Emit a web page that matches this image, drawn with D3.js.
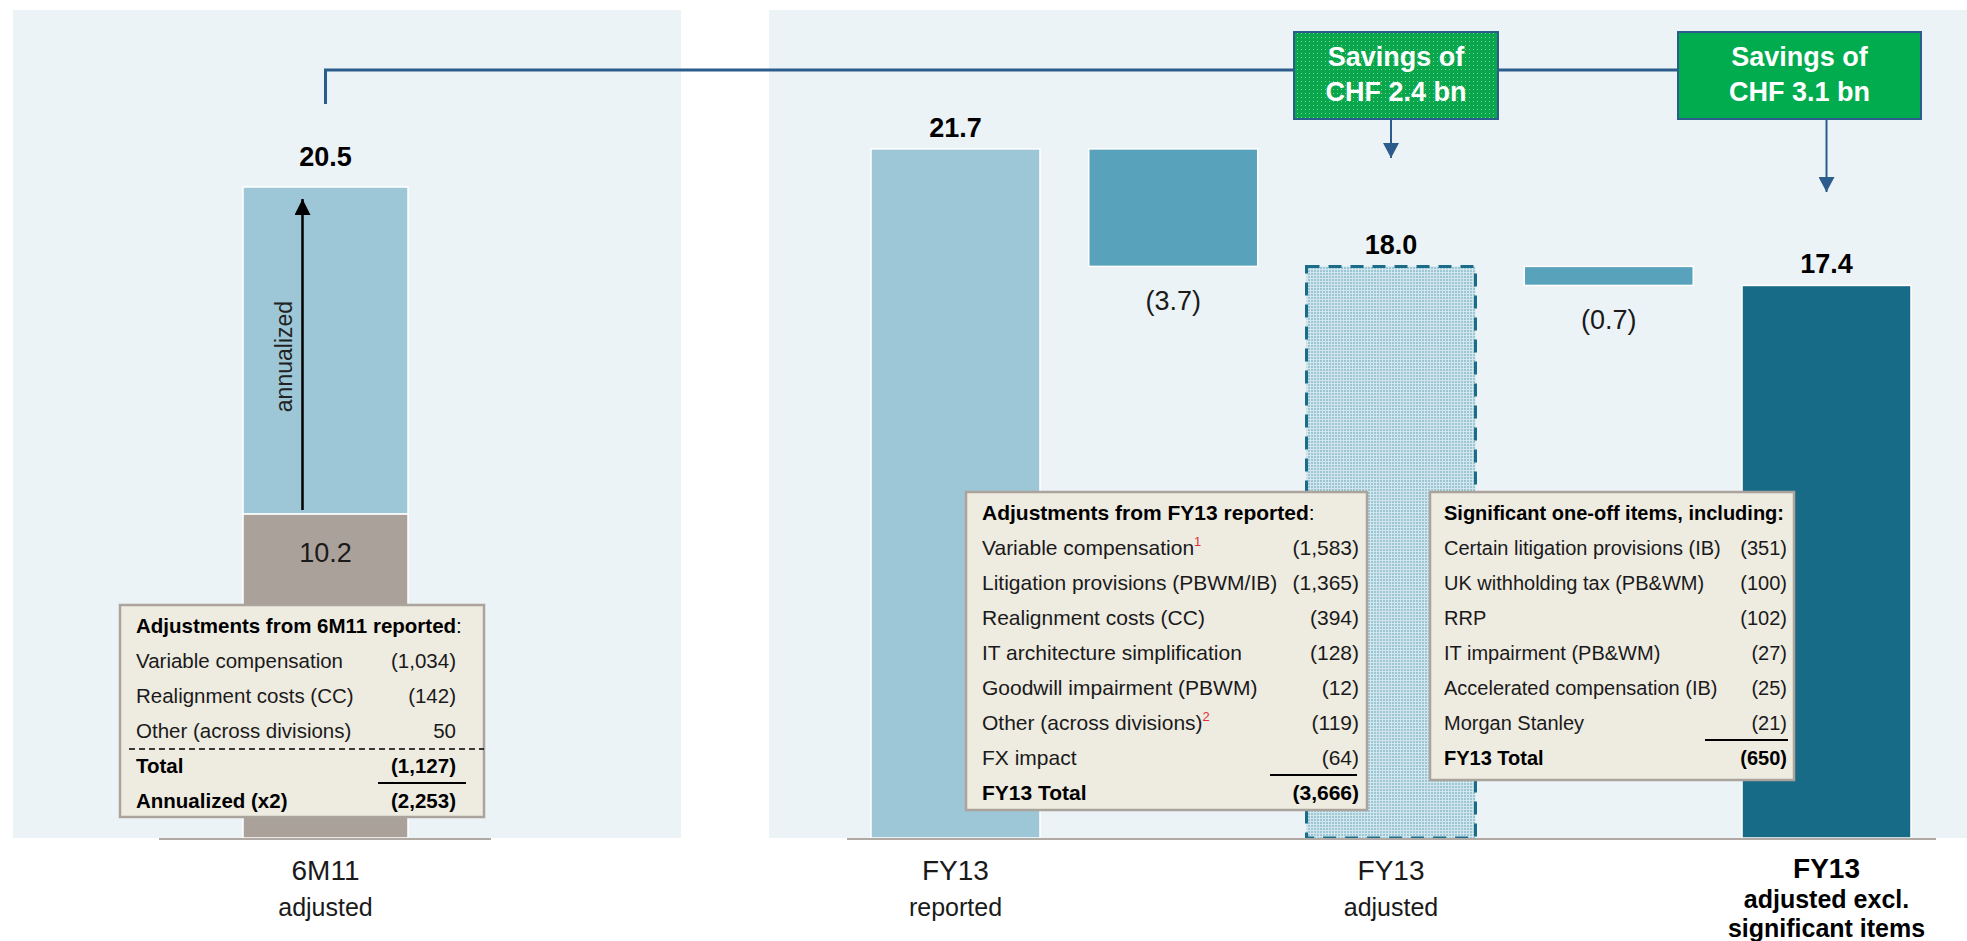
<!DOCTYPE html>
<html>
<head>
<meta charset="utf-8">
<script src="https://cdn.jsdelivr.net/npm/d3@7"></script>
<style>
	body { margin: 0; background: #ffffff; }
	text { font-family: "Liberation Sans", Arial, sans-serif; }
</style>
</head>
<body>
<div id="chart"></div>
<script>
// ---- data ----
var leftCategory = ["6M11", "adjusted"];
var leftSegments = [10.2, 20.5];          // 6M11 reported level, annualized level
var leftLabels = ["10.2", "20.5"];

var stepKeys = ["reported", "cut1", "adjusted", "cut2", "excl"];
var totals = [21.7, 18.0, 17.4];          // FY13 reported, adjusted, adjusted excl. items
var totalLabels = ["21.7", "18.0", "17.4"];
var deltaLabels = ["(3.7)", "(0.7)"];
var categoryLines = [
	["FY13", "reported"],
	[],
	["FY13", "adjusted"],
	[],
	["FY13", "adjusted excl.", "significant items"]
];
var savingsLines = [
	["Savings of", "CHF 2.4 bn"],
	["Savings of", "CHF 3.1 bn"]
];

var leftTableTitle = "Adjustments from 6M11 reported";
var leftTableRows = [
	["Variable compensation", "(1,034)"],
	["Realignment costs (CC)", "(142)"],
	["Other (across divisions)", "50"]
];
var leftTableTotals = [
	["Total", "(1,127)"],
	["Annualized (x2)", "(2,253)"]
];

var midTableTitle = "Adjustments from FY13 reported";
var midTableRows = [
	["Variable compensation", "(1,583)", "1"],
	["Litigation provisions (PBWM/IB)", "(1,365)", ""],
	["Realignment costs (CC)", "(394)", ""],
	["IT architecture simplification", "(128)", ""],
	["Goodwill impairment (PBWM)", "(12)", ""],
	["Other (across divisions)", "(119)", "2"],
	["FX impact", "(64)", ""]
];
var midTableTotal = ["FY13 Total", "(3,666)"];

var rightTableTitle = "Significant one-off items, including:";
var rightTableRows = [
	["Certain litigation provisions (IB)", "(351)"],
	["UK withholding tax (PB&WM)", "(100)"],
	["RRP", "(102)"],
	["IT impairment (PB&WM)", "(27)"],
	["Accelerated compensation (IB)", "(25)"],
	["Morgan Stanley", "(21)"]
];
var rightTableTotal = ["FY13 Total", "(650)"];

function CostBridgeChart(options)
{
	var _opts = Object.assign({
		el: "#chart",
		width: 1967,
		height: 941,
		baseY: 838,
		topY: 187,           // pixel level of 20.5
		panelTop: 10,
		panelColor: "#ecf3f6",
		lightBar: "#9dc7d6",
		deltaBar: "#58a3bb",
		darkBar: "#186b87",
		grayBar: "#aaa19b",
		lineBlue: "#2b5c8b",
		boxFill: "#eeebe1",
		boxStroke: "#aaa49d",
		textColor: "#1a1a1a"
	}, options);

	var y = d3.scaleLinear()
		.domain([0, leftSegments[1]])
		.range([_opts.baseY, _opts.topY]);

	var xLeft = d3.scaleBand()
		.domain([leftCategory[0]])
		.range([243, 408]);

	var xRight = d3.scaleBand()
		.domain(stepKeys)
		.range([871, 1911])
		.paddingInner(0.224)
		.paddingOuter(0);

	// waterfall steps: totals go from 0, deltas float between neighbouring totals
	function buildSteps()
	{
		var steps = [];
		stepKeys.forEach(function(key, i) {
			if (i % 2 === 0) {
				var t = totals[i / 2];
				steps.push({key: key, y0: 0, y1: t, label: totalLabels[i / 2], kind: "total", idx: i / 2});
			} else {
				var a = totals[(i - 1) / 2], b = totals[(i + 1) / 2];
				steps.push({key: key, y0: b, y1: a, label: deltaLabels[(i - 1) / 2], kind: "delta"});
			}
		});
		return steps;
	}

	function addDefs(svg)
	{
		var defs = svg.append("defs");

		var p = defs.append("pattern")
			.attr("id", "dotBlue")
			.attr("patternUnits", "userSpaceOnUse")
			.attr("width", 3).attr("height", 3);
		p.append("rect").attr("width", 3).attr("height", 3).attr("fill", "#d2e6ed");
		p.append("rect").attr("width", 2).attr("height", 2).attr("fill", "#9cc6d4");

		var g = defs.append("pattern")
			.attr("id", "dotGreen")
			.attr("patternUnits", "userSpaceOnUse")
			.attr("width", 4).attr("height", 4);
		g.append("rect").attr("width", 4).attr("height", 4).attr("fill", "#0aa64c");
		g.append("rect").attr("x", 1).attr("y", 1).attr("width", 1).attr("height", 1).attr("fill", "#7ad39e");

		defs.append("marker")
			.attr("id", "headBlue")
			.attr("viewBox", "0 0 16 15")
			.attr("refX", 8).attr("refY", 15)
			.attr("markerWidth", 16).attr("markerHeight", 15)
			.attr("markerUnits", "userSpaceOnUse")
			.attr("orient", "0")
			.append("path")
			.attr("d", "M0,0 L16,0 L8,15 Z")
			.attr("fill", _opts.lineBlue);

		defs.append("marker")
			.attr("id", "headBlack")
			.attr("viewBox", "0 0 16 16")
			.attr("refX", 8).attr("refY", 0)
			.attr("markerWidth", 16).attr("markerHeight", 16)
			.attr("markerUnits", "userSpaceOnUse")
			.attr("orient", "0")
			.append("path")
			.attr("d", "M8,0 L16,16 L0,16 Z")
			.attr("fill", "#000");
	}

	function drawLeft(svg)
	{
		svg.append("rect")
			.attr("x", 13).attr("y", _opts.panelTop)
			.attr("width", 668).attr("height", _opts.baseY - _opts.panelTop)
			.attr("fill", _opts.panelColor);

		var bx = xLeft(leftCategory[0]);
		var bw = xLeft.bandwidth();
		var cx = bx + bw / 2;

		// annualized part on top, reported half below
		svg.append("rect")
			.attr("x", bx).attr("y", y(leftSegments[1]))
			.attr("width", bw).attr("height", y(leftSegments[0]) - y(leftSegments[1]))
			.attr("fill", _opts.lightBar)
			.attr("stroke", "#fff").attr("stroke-width", 1.5);
		svg.append("rect")
			.attr("x", bx).attr("y", y(leftSegments[0]))
			.attr("width", bw).attr("height", y(0) - y(leftSegments[0]))
			.attr("fill", _opts.grayBar)
			.attr("stroke", "#fff").attr("stroke-width", 1.5);

		svg.append("text")
			.attr("x", cx).attr("y", y(leftSegments[0]) + 48)
			.attr("text-anchor", "middle")
			.attr("font-size", 27).attr("fill", _opts.textColor)
			.text(leftLabels[0]);
		svg.append("text")
			.attr("x", cx).attr("y", y(leftSegments[1]) - 21)
			.attr("text-anchor", "middle")
			.attr("font-size", 27).attr("font-weight", "bold").attr("fill", "#000")
			.text(leftLabels[1]);

		// annualized arrow
		svg.append("line")
			.attr("x1", cx - 23).attr("x2", cx - 23)
			.attr("y1", y(leftSegments[0]) - 4).attr("y2", y(leftSegments[1]) + 12)
			.attr("stroke", "#000").attr("stroke-width", 2.5)
			.attr("marker-end", "url(#headBlack)");
		svg.append("text")
			.attr("transform", "translate(" + (cx - 42) + "," + ((y(leftSegments[0]) + y(leftSegments[1])) / 2 + 6) + ") rotate(-90)")
			.attr("text-anchor", "middle")
			.attr("dominant-baseline", "central")
			.attr("font-size", 23).attr("fill", "#222")
			.text("annualized");

		svg.append("line")
			.attr("x1", 159).attr("x2", 491)
			.attr("y1", _opts.baseY + 1).attr("y2", _opts.baseY + 1)
			.attr("stroke", "#b1aaa4").attr("stroke-width", 2);

		var lab = svg.append("text")
			.attr("text-anchor", "middle")
			.attr("fill", _opts.textColor);
		lab.append("tspan").attr("x", cx).attr("y", 880).attr("font-size", 28).text(leftCategory[0]);
		lab.append("tspan").attr("x", cx).attr("y", 916).attr("font-size", 25).text(leftCategory[1]);
	}

	function drawRight(svg, steps)
	{
		svg.append("rect")
			.attr("x", 769).attr("y", _opts.panelTop)
			.attr("width", 1967 - 769).attr("height", _opts.baseY - _opts.panelTop)
			.attr("fill", _opts.panelColor);

		var bars = svg.append("g");
		bars.selectAll("rect")
			.data(steps)
			.enter().append("rect")
			.attr("x", function(d) { return xRight(d.key); })
			.attr("y", function(d) { return y(d.y1); })
			.attr("width", xRight.bandwidth())
			.attr("height", function(d) { return y(d.y0) - y(d.y1); })
			.attr("fill", function(d) {
				if (d.kind === "delta") return _opts.deltaBar;
				if (d.idx === 0) return _opts.lightBar;
				if (d.idx === 1) return "url(#dotBlue)";
				return _opts.darkBar;
			})
			.attr("stroke", function(d) { return d.idx === 1 ? "#1a6c89" : "#fff"; })
			.attr("stroke-width", function(d) { return d.idx === 1 ? 3 : 1.5; })
			.attr("stroke-dasharray", function(d) { return d.idx === 1 ? "13,9" : null; });

		bars.selectAll("text")
			.data(steps)
			.enter().append("text")
			.attr("x", function(d) { return xRight(d.key) + xRight.bandwidth() / 2; })
			.attr("y", function(d) {
				return d.kind === "total" ? y(d.y1) - 12 : y(d.y0) + 44;
			})
			.attr("text-anchor", "middle")
			.attr("font-size", 27)
			.attr("font-weight", function(d) { return d.kind === "total" ? "bold" : "normal"; })
			.attr("fill", function(d) { return d.kind === "total" ? "#000" : _opts.textColor; })
			.text(function(d) { return d.label; });

		svg.append("line")
			.attr("x1", 847).attr("x2", 1936)
			.attr("y1", _opts.baseY + 1).attr("y2", _opts.baseY + 1)
			.attr("stroke", "#b1aaa4").attr("stroke-width", 2);

		// category labels under the bars
		stepKeys.forEach(function(key, i) {
			var lines = categoryLines[i];
			if (!lines.length) return;
			var last = i === stepKeys.length - 1;
			var t = svg.append("text")
				.attr("text-anchor", "middle")
				.attr("font-weight", last ? "bold" : "normal")
				.attr("fill", last ? "#000" : _opts.textColor);
			lines.forEach(function(s, j) {
				t.append("tspan")
					.attr("x", xRight(key) + xRight.bandwidth() / 2)
					.attr("y", last ? [878, 908, 937][j] : 880 + j * 36)
					.attr("font-size", j === 0 ? 28 : 25)
					.text(s);
			});
		});
	}

	function drawSavings(svg)
	{
		var cxLeft = xLeft(leftCategory[0]) + xLeft.bandwidth() / 2;
		var boxes = [
			{x: 1294, w: 204, key: "adjusted", tip: 158, fill: "url(#dotGreen)"},
			{x: 1678, w: 243, key: "excl", tip: 192, fill: "#00ac4e"}
		];

		// connector from 6M11 level across to the savings boxes
		svg.append("path")
			.attr("d", "M" + cxLeft + ",104 L" + cxLeft + ",70 L" + boxes[1].x + ",70")
			.attr("fill", "none")
			.attr("stroke", _opts.lineBlue)
			.attr("stroke-width", 3);

		boxes.forEach(function(b, i) {
			var ax = xRight(b.key) + xRight.bandwidth() / 2;
			svg.append("line")
				.attr("x1", ax).attr("x2", ax)
				.attr("y1", 119).attr("y2", b.tip)
				.attr("stroke", _opts.lineBlue).attr("stroke-width", 2)
				.attr("marker-end", "url(#headBlue)");

			svg.append("rect")
				.attr("x", b.x).attr("y", 32)
				.attr("width", b.w).attr("height", 87)
				.attr("fill", b.fill)
				.attr("stroke", _opts.lineBlue).attr("stroke-width", 2);

			var t = svg.append("text")
				.attr("text-anchor", "middle")
				.attr("font-size", 27).attr("font-weight", "bold")
				.attr("fill", "#fff");
			savingsLines[i].forEach(function(s, j) {
				t.append("tspan")
					.attr("x", b.x + b.w / 2)
					.attr("y", 66 + j * 35)
					.text(s);
			});
		});
	}

	// one beige adjustments box; rows sit 35px apart
	function drawTable(svg, cfg)
	{
		var g = svg.append("g");
		g.append("rect")
			.attr("x", cfg.x).attr("y", cfg.y)
			.attr("width", cfg.w).attr("height", cfg.h)
			.attr("fill", _opts.boxFill)
			.attr("stroke", _opts.boxStroke).attr("stroke-width", 2.5);

		var tx = cfg.x + cfg.pad;
		var vx = cfg.valueX;
		var base = cfg.y + 28;
		var fs = cfg.fontSize;

		var title = g.append("text")
			.attr("x", tx).attr("y", base)
			.attr("font-size", fs).attr("fill", "#000");
		title.append("tspan").attr("font-weight", "bold").text(cfg.title);
		if (cfg.colon) title.append("tspan").text(":");

		cfg.rows.forEach(function(r, i) {
			var ry = base + (i + 1) * 35;
			var t = g.append("text")
				.attr("x", tx).attr("y", ry)
				.attr("font-size", fs).attr("fill", _opts.textColor)
				.text(r[0]);
			if (r[2]) {
				t.append("tspan")
					.attr("dy", -9).attr("font-size", 13)
					.attr("fill", "#e0303a")
					.text(r[2]);
			}
			g.append("text")
				.attr("x", vx).attr("y", ry)
				.attr("text-anchor", "end")
				.attr("font-size", fs).attr("fill", _opts.textColor)
				.text(r[1]);
		});

		var n = cfg.rows.length;
		if (cfg.dashed) {
			g.append("line")
				.attr("x1", cfg.x + 9).attr("x2", cfg.x + cfg.w)
				.attr("y1", base + n * 35 + 11).attr("y2", base + n * 35 + 11)
				.attr("stroke", "#000").attr("stroke-width", 1.5)
				.attr("stroke-dasharray", "6,4");
		}

		cfg.totals.forEach(function(r, i) {
			var ry = base + (n + 1 + i) * 35;
			g.append("text")
				.attr("x", tx).attr("y", ry)
				.attr("font-size", fs).attr("font-weight", "bold").attr("fill", "#000")
				.text(r[0]);
			g.append("text")
				.attr("x", vx).attr("y", ry)
				.attr("text-anchor", "end")
				.attr("font-size", fs).attr("font-weight", "bold").attr("fill", "#000")
				.text(r[1]);
		});

		var uy = base + cfg.underlineRow * 35 + 10;
		g.append("line")
			.attr("x1", cfg.underline[0]).attr("x2", cfg.underline[1])
			.attr("y1", uy).attr("y2", uy)
			.attr("stroke", "#000").attr("stroke-width", 2);
	}

	function init()
	{
		var svg = d3.select(_opts.el).append("svg")
			.attr("width", _opts.width)
			.attr("height", _opts.height);

		addDefs(svg);
		drawLeft(svg);
		drawRight(svg, buildSteps());
		drawSavings(svg);

		drawTable(svg, {
			x: 120, y: 605, w: 364, h: 212, pad: 16, valueX: 456, fontSize: 20.5,
			title: leftTableTitle, colon: true,
			rows: leftTableRows, totals: leftTableTotals,
			dashed: true, underlineRow: 4, underline: [378, 466]
		});
		drawTable(svg, {
			x: 966, y: 492, w: 401, h: 318, pad: 16, valueX: 1359, fontSize: 21,
			title: midTableTitle, colon: true,
			rows: midTableRows, totals: [midTableTotal],
			dashed: false, underlineRow: 7, underline: [1270, 1357]
		});
		drawTable(svg, {
			x: 1430, y: 492, w: 364, h: 288, pad: 14, valueX: 1787, fontSize: 20,
			title: rightTableTitle, colon: false,
			rows: rightTableRows, totals: [rightTableTotal],
			dashed: false, underlineRow: 6, underline: [1705, 1788]
		});
	}

	return {init: init};
}

CostBridgeChart({}).init();
</script>
</body>
</html>
